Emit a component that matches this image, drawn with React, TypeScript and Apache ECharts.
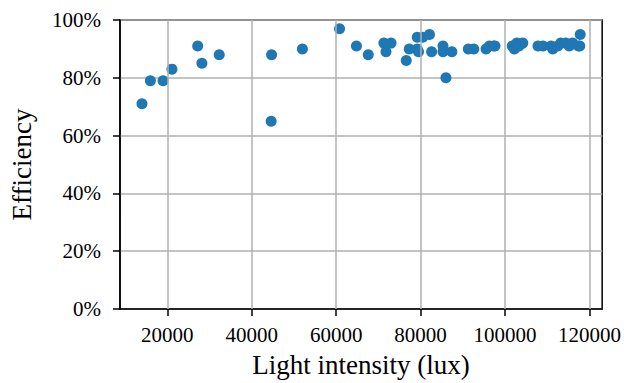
import React, { useEffect, useRef } from "react";
import * as echarts from "echarts";

const luxValues = [
  14000, 16000, 19000, 21100, 27200, 28200, 32300, 44700, 44600, 52000,
  60800, 64800, 67600, 71300, 73000, 71800, 76600, 77300, 79200, 79500,
  79200, 80500, 82100, 82600, 85300, 85300, 86000, 87400, 91300, 92600,
  95500, 96300, 97300, 97600, 101700, 102200, 102800, 103300, 104200, 107800,
  109000, 110900, 111300, 112500, 113200, 114400, 115200, 116000, 117400, 117700,
  117800,
];
const efficiencyValues = [
  71, 79, 79, 83, 91, 85, 88, 88, 65, 90,
  97, 91, 88, 92, 92, 89, 86, 90, 90, 89,
  94, 94, 95, 89, 91, 89, 80, 89, 90, 90,
  90, 91, 91, 91, 91, 90, 92, 91, 92, 91,
  91, 91, 90, 91, 92, 92, 91, 92, 91, 91,
  95,
];
const xTicks = [20000, 40000, 60000, 80000, 100000, 120000];
const yTicks = [0, 20, 40, 60, 80, 100];

const FONT = "'Liberation Serif', 'Times New Roman', serif";

export default function App() {
  const ref = useRef<HTMLDivElement>(null);
  useEffect(() => {
    if (!ref.current) return;
    const chart = echarts.init(ref.current, null, { renderer: "svg" });
    const points = luxValues.map((x, i) => [x, efficiencyValues[i]]);
    chart.setOption({
      animation: false,
      grid: {
        left: 120,
        right: 20,
        top: 20,
        bottom: 73,
        show: true,
        borderColor: "#000",
        borderWidth: 1.5,
        backgroundColor: "transparent",
      },
      xAxis: {
        type: "value",
        min: 8800,
        max: 123000,
        name: "Light intensity (lux)",
        nameLocation: "middle",
        nameGap: 42,
        nameTextStyle: { fontFamily: FONT, fontSize: 27, color: "#000" },
        axisLine: { show: true, lineStyle: { color: "#000", width: 1.5 } },
        axisTick: {
          show: true,
          length: 7,
          lineStyle: { color: "#000", width: 1.5 },
          customValues: xTicks,
        },
        axisLabel: {
          fontFamily: FONT,
          fontSize: 21,
          color: "#000",
          margin: 15,
          customValues: xTicks,
          formatter: (v: number) => String(v),
        },
        splitLine: { show: false },
      },
      yAxis: {
        type: "value",
        min: 0,
        max: 100,
        interval: 20,
        name: "Efficiency",
        nameLocation: "middle",
        nameGap: 85,
        nameTextStyle: { fontFamily: FONT, fontSize: 27, color: "#000" },
        axisLine: { show: true, lineStyle: { color: "#000", width: 1.5 } },
        axisTick: { show: true, length: 7, lineStyle: { color: "#000", width: 1.5 } },
        axisLabel: {
          fontFamily: FONT,
          fontSize: 21,
          color: "#000",
          margin: 19,
          formatter: "{value}%",
        },
        splitLine: { show: true, lineStyle: { color: "#b0b0b0", width: 1.5 } },
      },
      series: [
        {
          type: "scatter",
          data: [],
          z: 1,
          silent: true,
          markLine: {
            silent: true,
            symbol: "none",
            label: { show: false },
            lineStyle: { color: "#b0b0b0", width: 1.5, type: "solid" },
            data: xTicks.map((x) => ({ xAxis: x })),
          },
        },
        {
          type: "scatter",
          data: points,
          z: 3,
          symbolSize: 11,
          itemStyle: { color: "#1f77b4", opacity: 1 },
        },
      ],
    });
    return () => chart.dispose();
  }, []);
  return (
    <div
      ref={ref}
      style={{ position: "fixed", left: 0, top: 0, width: 624, height: 383, background: "#fff" }}
    />
  );
}
